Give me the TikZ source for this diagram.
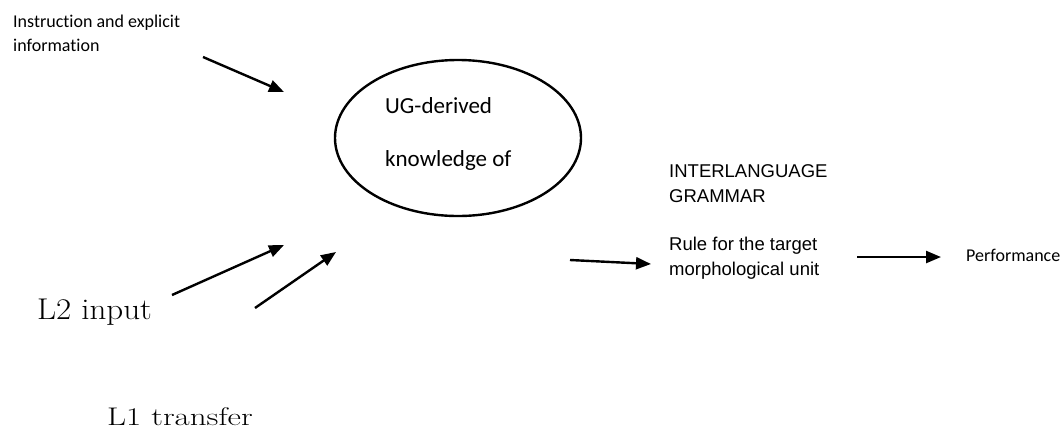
\documentclass[tikz,border=0pt]{standalone}
\usepackage{fontspec}
\setsansfont{Carlito}[Ligatures=NoCommon]
\newfontfamily\arialfont{Liberation Sans}
\usetikzlibrary{arrows.meta,shapes.geometric}

\begin{document}
\begin{tikzpicture}[x=1pt,y=1pt]
\tikzstyle{every node}+=[inner sep=0pt]
\tikzstyle{arr}=[black, line width=2.4pt, -{Triangle[length=15pt,width=12pt]}]
\tikzstyle{small}=[font=\sffamily\fontsize{18}{24}\selectfont, align=left]
\tikzstyle{big}=[font=\fontsize{30}{34}\selectfont]
\useasboundingbox (0,0) rectangle (1063,-432);
% labels
\node [small, anchor=west] (instr) at (13,-33) {Instruction and explicit\\information};
\node [big, anchor=base west] (l2) at (37,-319) {\scalebox{1.1}[1]{L2 input}};
\node [big, anchor=base west] (l1) at (107,-425) {\scalebox{1.1}[0.85]{L1 transfer}};
\node [ellipse, draw, line width=2.4pt, minimum width=246pt, minimum height=156pt] (ug) at (458,-138) {};
\node [font=\sffamily\fontsize{23}{53}\selectfont, align=left, anchor=west] (ugtext) at (385,-134) {UG-derived\\knowledge of};
\node [font=\arialfont\fontsize{18.5}{25}\selectfont, align=left, anchor=west] (ilg) at (669,-184) {INTERLANGUAGE\\GRAMMAR};
\node [font=\arialfont\fontsize{18.5}{25}\selectfont, align=left, anchor=west] (rule) at (669,-258) {Rule for the target\\morphological unit};
\node [small, anchor=west] (perf) at (966,-255) {Performance};
% arrow ends
\coordinate (a1) at (203,-57);
\coordinate (b1) at (284,-92);
\coordinate (a2) at (172,-295);
\coordinate (b2) at (284,-245);
\coordinate (a3) at (255,-308);
\coordinate (b3) at (336,-252);
\coordinate (a4) at (570,-260);
\coordinate (b4) at (651,-264);
\coordinate (a5) at (857,-257);
\coordinate (b5) at (941,-257);
\draw [arr] (a1) -- (b1);
\draw [arr] (a2) -- (b2);
\draw [arr] (a3) -- (b3);
\draw [arr] (a4) -- (b4);
\draw [arr] (a5) -- (b5);
\end{tikzpicture}
\end{document}
